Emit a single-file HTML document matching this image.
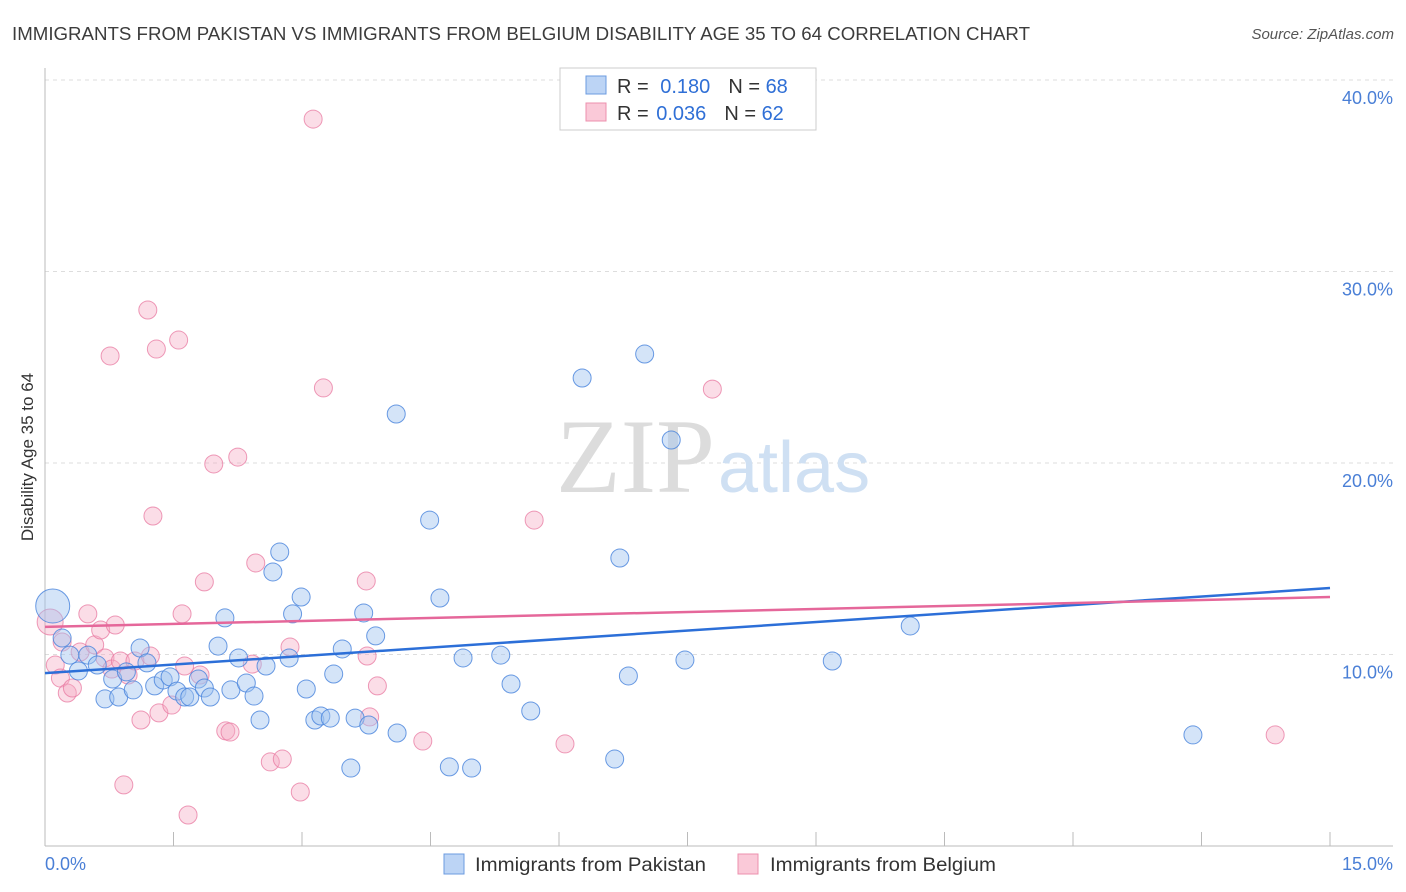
<!DOCTYPE html>
<html><head><meta charset="utf-8"><style>
body{margin:0;background:#fff;font-family:"Liberation Sans",sans-serif;}
svg{display:block}
</style></head><body>
<svg id="chart" width="1406" height="892">
<text x="12" y="40" font-size="18" fill="#3c3c3c" textLength="1018" lengthAdjust="spacingAndGlyphs">IMMIGRANTS FROM PAKISTAN VS IMMIGRANTS FROM BELGIUM DISABILITY AGE 35 TO 64 CORRELATION CHART</text>
<text x="1394" y="39" font-size="15" fill="#555" text-anchor="end" font-style="italic">Source: ZipAtlas.com</text>
<text x="0" y="0" transform="translate(33,457) rotate(-90)" font-size="17" fill="#333" text-anchor="middle">Disability Age 35 to 64</text>
<g id="grid"></g>
<text x="715" y="492" font-size="106" fill="#dcdcdc" text-anchor="end" font-family="Liberation Serif,serif">ZIP</text>
<text x="718" y="492" font-size="72" fill="#cfe0f3">atlas</text>
<g id="pts"></g>
<g id="lines"></g>
<g>
<rect x="560" y="68" width="256" height="62" fill="#fff" stroke="#ccc"/>
<rect x="586" y="76" width="20" height="18" fill="#bcd4f5" stroke="#6b9be0"/>
<rect x="586" y="103" width="20" height="18" fill="#fac9d8" stroke="#ec90ae"/>
<text x="617" y="93" font-size="20" fill="#333">R = <tspan fill="#2f6fd6" dx="6">0.180</tspan><tspan dx="18">N = </tspan><tspan fill="#2f6fd6">68</tspan></text>
<text x="617" y="120" font-size="20" fill="#333">R = <tspan fill="#2f6fd6" dx="2">0.036</tspan><tspan dx="18">N = </tspan><tspan fill="#2f6fd6">62</tspan></text>
</g>
<text x="45" y="870" font-size="18" fill="#4a7fd6">0.0%</text>
<text x="1393" y="870" font-size="18" fill="#4a7fd6" text-anchor="end">15.0%</text>
<g>
<rect x="444" y="854" width="20" height="20" fill="#bcd4f5" stroke="#6b9be0"/>
<text x="475" y="871" font-size="19" fill="#333" textLength="231" lengthAdjust="spacingAndGlyphs">Immigrants from Pakistan</text>
<rect x="738" y="854" width="20" height="20" fill="#fac9d8" stroke="#ec90ae"/>
<text x="770" y="871" font-size="19" fill="#333" textLength="226" lengthAdjust="spacingAndGlyphs">Immigrants from Belgium</text>
</g>
</svg>
<script>
const yTicks=[10,20,30,40];
const yTickLabels=["10.0%","20.0%","30.0%","40.0%"];
const blueX=[.09,.20,.29,.39,.50,.61,.70,.79,.86,.95,1.03,1.11,1.19,1.28,1.38,1.46,1.54,1.63,1.69,1.79,1.86,1.93,2.02,2.10,2.17,2.26,2.35,2.44,2.51,2.58,2.66,2.74,2.85,2.89,2.99,3.05,3.15,3.22,3.33,3.37,3.47,3.57,3.62,3.72,3.78,3.86,4.10,4.11,4.49,4.61,4.72,4.88,4.98,5.32,5.44,5.67,6.27,6.65,6.71,6.81,7.00,7.31,7.47,9.19,10.10,13.40];
const blueY=[12.53,10.86,9.97,9.14,9.97,9.45,7.68,8.72,7.78,9.09,8.15,10.34,9.56,8.36,8.67,8.83,8.09,7.78,7.78,8.72,8.25,7.78,10.44,11.91,8.15,9.82,8.51,7.83,6.58,9.40,14.31,15.35,9.82,12.12,13.00,8.20,6.58,6.79,6.68,8.98,10.29,4.07,6.68,12.17,6.32,10.97,22.56,5.90,17.02,12.95,4.13,9.82,4.07,9.97,8.46,7.05,24.44,4.54,15.04,8.88,25.69,21.20,9.71,9.66,11.49,5.80];
const pinkX=[.06,.12,.18,.20,.26,.32,.41,.50,.58,.65,.70,.78,.82,.88,.92,.97,1.05,1.12,1.20,1.23,1.26,1.30,1.33,1.48,1.56,1.60,1.63,1.67,1.81,1.86,1.97,2.11,2.16,2.25,2.42,2.46,2.63,2.77,2.86,2.98,3.13,3.25,3.75,3.76,3.79,3.88,4.41,5.71,6.07,7.79,14.36,.76];
const pinkY=[11.70,9.45,8.77,10.65,7.99,8.25,10.13,12.12,10.50,11.28,9.82,9.24,11.54,9.66,3.19,8.93,9.66,6.58,27.99,9.92,17.23,25.95,6.95,7.36,26.42,12.12,9.40,1.62,8.93,13.79,19.95,6.01,5.95,20.31,9.50,14.78,4.39,4.54,10.39,2.82,37.96,23.92,13.84,9.92,6.74,8.36,5.48,17.02,5.33,23.86,5.80,25.59];
const blueTrend=[9.03,13.47];
const pinkTrend=[11.44,13.0];
const xDomain=[0,15];
const xTickVals=[0,1.5,3,4.5,6,7.5,9,10.5,12,13.5,15];

const X0=45,X1=1330,YB=846,PPU=19.15;
const sx=v=>X0+(v-xDomain[0])/(xDomain[1]-xDomain[0])*(X1-X0);
const sy=v=>YB-v*PPU;
const NS="http://www.w3.org/2000/svg";
function mk(tag,attrs,parent){const e=document.createElementNS(NS,tag);for(const k in attrs)e.setAttribute(k,attrs[k]);parent.appendChild(e);return e;}
const grid=document.getElementById('grid');
yTicks.forEach((t,i)=>{
 const l=mk('line',{x1:X0,x2:1393,y1:sy(t),y2:sy(t),stroke:'#ddd','stroke-dasharray':'4,4'},grid);
 
 
 const tx=mk('text',{x:1393,y:sy(t)+24,'font-size':18,fill:'#4a7fd6','text-anchor':'end'},grid);
 tx.textContent=yTickLabels[i];
 
 
});
const ax=mk('line',{x1:X0,x2:X0,y1:68,y2:YB,stroke:'#bbb'},grid);


const bx=mk('line',{x1:X0,x2:1393,y1:YB,y2:YB,stroke:'#bbb'},grid);


xTickVals.forEach(v=>{
 const t=mk('line',{x1:sx(v),x2:sx(v),y1:832,y2:YB,stroke:'#bbb'},grid);
 
 
});
const pts=document.getElementById('pts');
pinkX.forEach((x,i)=>{
 const c=mk('circle',{cx:sx(x),cy:sy(pinkY[i]),r:i===0?13:9,fill:'rgba(246,170,195,0.4)',stroke:'rgba(232,120,160,0.75)','stroke-width':1},pts);
 
 
});
blueX.forEach((x,i)=>{
 const c=mk('circle',{cx:sx(x),cy:sy(blueY[i]),r:i===0?17:9,fill:'rgba(160,196,240,0.45)',stroke:'rgba(70,130,220,0.8)','stroke-width':1},pts);
 
 
});
const lines=document.getElementById('lines');
const bl=mk('line',{x1:sx(0),x2:sx(15),y1:sy(blueTrend[0]),y2:sy(blueTrend[1]),stroke:'#2c6fd8','stroke-width':2.5},lines);


const pl=mk('line',{x1:sx(0),x2:sx(15),y1:sy(pinkTrend[0]),y2:sy(pinkTrend[1]),stroke:'#e5679a','stroke-width':2.5},lines);


</script>
</body></html>
